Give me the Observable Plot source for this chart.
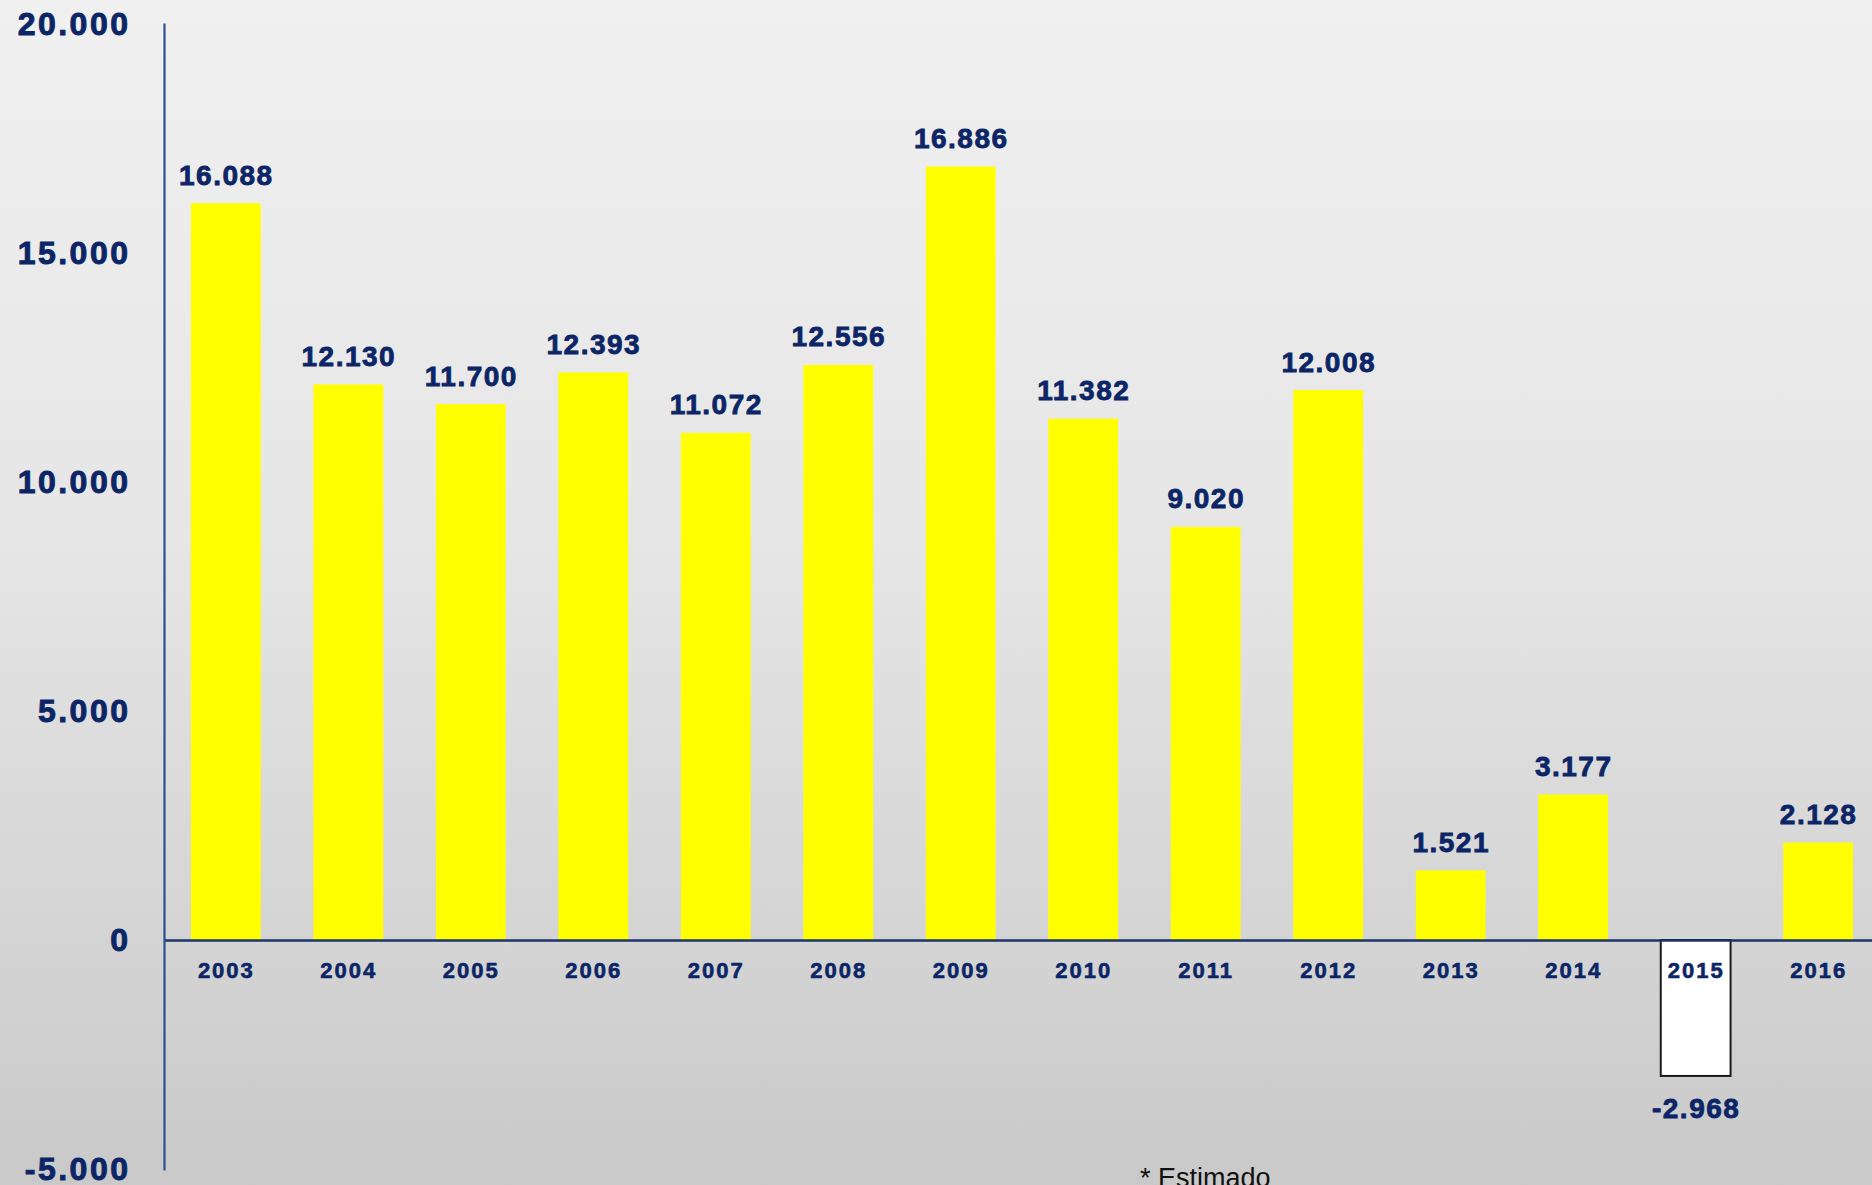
<!DOCTYPE html>
<html>
<head>
<meta charset="utf-8">
<script src="https://cdn.jsdelivr.net/npm/d3@7"></script>
<script src="https://cdn.jsdelivr.net/npm/@observablehq/plot@0.6"></script>
<style>
  html, body { margin: 0; padding: 0; }
  body {
    width: 1872px; height: 1185px; overflow: hidden; position: relative;
    background: linear-gradient(to bottom, #f0f0f0 0%, #e6e6e6 45%, #c9c9c9 100%);
    font-family: "Liberation Sans", Arial, sans-serif;
  }
  #chart { position: absolute; left: 0; top: 0; }
  #caption {
    position: absolute; left: 1140px; top: 1165px;
    font-size: 27px; line-height: 1; color: #111;
    font-family: "Liberation Sans", Arial, sans-serif;
  }
  .ylab text { letter-spacing: 2.5px; paint-order: stroke; stroke: #0b2566; stroke-width: 0.9px; }
  .vlab text { letter-spacing: 1.5px; paint-order: stroke; stroke: #0b2566; stroke-width: 0.8px; }
  .xlab text { letter-spacing: 2px; paint-order: stroke; stroke: #0b2566; stroke-width: 0.6px; }
</style>
</head>
<body>
<div id="chart"></div>
<div id="caption">* Estimado</div>
<script>
const years = ["2003","2004","2005","2006","2007","2008","2009","2010","2011","2012","2013","2014","2015","2016"];
const values = [16088, 12130, 11700, 12393, 11072, 12556, 16886, 11382, 9020, 12008, 1521, 3177, -2968, 2128];
const yTicks = [-5000, 0, 5000, 10000, 15000, 20000];

const data = years.map((year, i) => ({year, value: values[i]}));
const pos = data.filter(d => d.value >= 0);
const neg = data.filter(d => d.value < 0);

const loc = d3.formatLocale({decimal: ",", thousands: ".", grouping: [3], currency: ["", ""], minus: "-"});
const fmt = loc.format(",d");

const navy = "#0b2566";
const font = "Liberation Sans, Arial, sans-serif";

const chart = Plot.plot({
  width: 1872,
  height: 1185,
  marginTop: 24,
  marginBottom: 16,
  marginLeft: 164,
  marginRight: 0,
  style: {background: "transparent", overflow: "visible", fontFamily: font},
  x: {domain: years, range: [164, 1880], paddingInner: 0.43, paddingOuter: 0.22, align: 0.5, round: false, axis: null},
  y: {domain: [-5000, 20000], ticks: yTicks},
  marks: [
    Plot.barY(pos, {x: "year", y: "value", fill: "#ffff00"}),
    Plot.barY(neg, {x: "year", y: "value", fill: "#ffffff", stroke: "#1a1a1a", strokeWidth: 2}),
    Plot.ruleY([0], {stroke: "#1c3468", strokeWidth: 2.7}),
    Plot.frame({anchor: "left", stroke: "#2a4f8e", strokeWidth: 2.2}),
    Plot.axisY({
      ticks: yTicks, tickFormat: fmt, tickSize: 0, tickPadding: 34,
      fill: navy, label: null,
      fontSize: 32, fontWeight: "bold", fontFamily: font, className: "ylab"
    }),
    Plot.text(data, {
      x: "year", y: () => 0, text: "year", dy: 30,
      fill: navy, fontSize: 22, fontWeight: "bold", fontFamily: font, className: "xlab"
    }),
    Plot.text(pos, {
      x: "year", y: "value", text: d => fmt(d.value), dy: -28,
      fill: navy, fontSize: 28, fontWeight: "bold", fontFamily: font, className: "vlab"
    }),
    Plot.text(neg, {
      x: "year", y: "value", text: d => fmt(d.value), dy: 33,
      fill: navy, fontSize: 28, fontWeight: "bold", fontFamily: font, className: "vlab"
    })
  ]
});
document.getElementById("chart").appendChild(chart);
</script>
</body>
</html>
